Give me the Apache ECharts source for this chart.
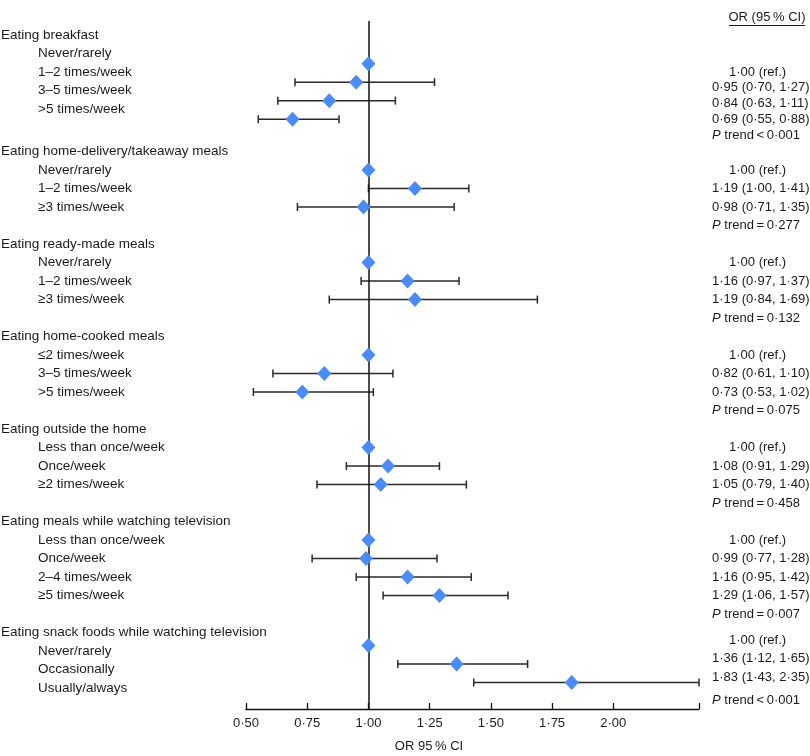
<!DOCTYPE html>
<html>
<head>
<meta charset="utf-8">
<script src="https://cdn.jsdelivr.net/npm/echarts@6/dist/echarts.min.js"></script>
<style>
  html, body { margin: 0; padding: 0; background: #fff; }
  #chart { width: 810px; height: 756px; }
</style>
</head>
<body>
<div id="chart"></div>
<script>
// 数据
const groupNames = [
  'Eating breakfast',
  'Eating home-delivery/takeaway meals',
  'Eating ready-made meals',
  'Eating home-cooked meals',
  'Eating outside the home',
  'Eating meals while watching television',
  'Eating snack foods while watching television'
]
const levelNames = [
  ['Never/rarely', '1–2 times/week', '3–5 times/week', '>5 times/week'],
  ['Never/rarely', '1–2 times/week', '≥3 times/week'],
  ['Never/rarely', '1–2 times/week', '≥3 times/week'],
  ['≤2 times/week', '3–5 times/week', '>5 times/week'],
  ['Less than once/week', 'Once/week', '≥2 times/week'],
  ['Less than once/week', 'Once/week', '2–4 times/week', '≥5 times/week'],
  ['Never/rarely', 'Occasionally', 'Usually/always']
]
const oddsRatios = [
  [1.00, 0.95, 0.84, 0.69],
  [1.00, 1.19, 0.98],
  [1.00, 1.16, 1.19],
  [1.00, 0.82, 0.73],
  [1.00, 1.08, 1.05],
  [1.00, 0.99, 1.16, 1.29],
  [1.00, 1.36, 1.83]
]
const ciLower = [
  [null, 0.70, 0.63, 0.55],
  [null, 1.00, 0.71],
  [null, 0.97, 0.84],
  [null, 0.61, 0.53],
  [null, 0.91, 0.79],
  [null, 0.77, 0.95, 1.06],
  [null, 1.12, 1.43]
]
const ciUpper = [
  [null, 1.27, 1.11, 0.88],
  [null, 1.41, 1.35],
  [null, 1.37, 1.69],
  [null, 1.10, 1.02],
  [null, 1.29, 1.40],
  [null, 1.28, 1.42, 1.57],
  [null, 1.65, 2.35]
]
const pTrend = ['<0·001', '=0·277', '=0·132', '=0·075', '=0·458', '=0·007', '<0·001']
const tickValues = [0.5, 0.75, 1.0, 1.25, 1.5, 1.75, 2.0, 2.35]
const labelValues = [0.5, 0.75, 1.0, 1.25, 1.5, 1.75, 2.0]

// 版面
const FONT = '"Liberation Sans", Arial, Helvetica, sans-serif'
const ROW_PX = 18.5
const TOP_PX = 21
const AXIS_PX = 709
const FIRST_ROW_PX = 35
// 各组的微调（单位：行）
const extraGap = [0.3, 0, 0, 0, 0, 0, 0]
const markShift = [0.55, 0, 0, 0, 0, 0, -0.3]
const labelShift = [0, 0, 0, 0, 0, 0, 0]
const rightShift = [1.0, 0, 0, 0, 0, 0, -0.6]
const pShift = [0.45, 0, 0, 0, 0, 0, -0.35]

const fmt = v => v.toFixed(2).replace('.', '·')

const leftTexts = []
const rightTexts = []
const diamonds = []
const bars = []

let row = 0
groupNames.forEach((name, g) => {
  leftTexts.push({ row: row, x: 1, text: name })
  levelNames[g].forEach((lv, i) => {
    const r = row + 1 + i
    leftTexts.push({ row: r + labelShift[g], x: 38, text: lv })
    diamonds.push([oddsRatios[g][i], r + markShift[g]])
    // 第一组右侧文字行距较紧
    const rr = g === 0 ? row + 1 + rightShift[g] + i * 0.86 : r + rightShift[g]
    if (ciLower[g][i] == null) {
      rightTexts.push({ row: rr, x: 729, text: fmt(oddsRatios[g][i]) + ' (ref.)' })
    } else {
      bars.push([ciLower[g][i], ciUpper[g][i], r + markShift[g]])
      rightTexts.push({
        row: rr,
        x: 712,
        text: fmt(oddsRatios[g][i]) + ' (' + fmt(ciLower[g][i]) + ', ' + fmt(ciUpper[g][i]) + ')'
      })
    }
  })
  const pr = row + levelNames[g].length + 1
  const p = pTrend[g]
  rightTexts.push({ row: pr + pShift[g], x: 712, text: '{i|P} trend\u2009' + p[0] + '\u2009' + p.slice(1) })
  row = pr + 1 + extraGap[g]
})

function textSeries (items, size) {
  return {
    type: 'custom',
    coordinateSystem: 'cartesian2d',
    silent: true,
    clip: false,
    data: items.map(d => [1, d.row]),
    encode: { x: 0, y: 1 },
    renderItem (params, api) {
      const it = items[params.dataIndex]
      const y = api.coord([1, api.value(1)])[1]
      return {
        type: 'text',
        x: it.x,
        y: y,
        style: {
          text: it.text,
          fill: '#1a1a1a',
          fontSize: size,
          fontFamily: FONT,
          align: 'left',
          verticalAlign: 'middle',
          rich: { i: { fontStyle: 'italic', fontSize: size, fontFamily: FONT, fill: '#1a1a1a' } }
        }
      }
    }
  }
}

const chart = echarts.init(document.getElementById('chart'), null, { renderer: 'canvas' })

chart.setOption({
  animation: false,
  backgroundColor: '#fff',
  grid: { left: 246, right: 111, top: TOP_PX, bottom: 756 - AXIS_PX },
  xAxis: {
    type: 'value',
    position: 'bottom',
    min: 0.5,
    max: 2.35,
    axisLine: { onZero: false, lineStyle: { color: '#111', width: 1.3 } },
    axisTick: { inside: true, length: 6, customValues: tickValues, lineStyle: { color: '#111', width: 1.3 } },
    axisLabel: {
      customValues: labelValues,
      formatter: v => fmt(v),
      color: '#1a1a1a',
      fontSize: 13,
      fontFamily: FONT,
      margin: 8
    },
    splitLine: { show: false }
  },
  yAxis: {
    type: 'value',
    inverse: true,
    min: (TOP_PX - FIRST_ROW_PX) / ROW_PX,
    max: (AXIS_PX - FIRST_ROW_PX) / ROW_PX,
    show: false
  },
  graphic: [
    {
      type: 'text',
      x: 767,
      y: 17,
      style: { text: 'OR (95\u2009% CI)', fontSize: 13, fontFamily: FONT, fill: '#1a1a1a', align: 'center', verticalAlign: 'middle' }
    },
    {
      type: 'line',
      shape: { x1: 729, y1: 25.5, x2: 805, y2: 25.5 },
      style: { stroke: '#1a1a1a', lineWidth: 1 }
    },
    {
      type: 'text',
      x: 429,
      y: 746,
      style: { text: 'OR 95\u2009% CI', fontSize: 13, fontFamily: FONT, fill: '#1a1a1a', align: 'center', verticalAlign: 'middle' }
    }
  ],
  series: [
    {
      type: 'custom',
      name: 'ci',
      data: bars,
      encode: { x: [0, 1], y: 2 },
      z: 2,
      renderItem (params, api) {
        const y = api.value(2)
        const a = api.coord([api.value(0), y])
        const b = api.coord([api.value(1), y])
        const st = { stroke: '#2a2a2a', lineWidth: 1.5 }
        return {
          type: 'group',
          children: [
            { type: 'line', shape: { x1: a[0], y1: a[1], x2: b[0], y2: b[1] }, style: st },
            { type: 'line', shape: { x1: a[0], y1: a[1] - 4, x2: a[0], y2: a[1] + 4 }, style: st },
            { type: 'line', shape: { x1: b[0], y1: b[1] - 4, x2: b[0], y2: b[1] + 4 }, style: st }
          ]
        }
      },
      markLine: {
        silent: true,
        symbol: ['none', 'none'],
        label: { show: false },
        lineStyle: { color: '#111', width: 1.5, type: 'solid' },
        data: [{ xAxis: 1 }]
      }
    },
    {
      type: 'scatter',
      name: 'OR',
      data: diamonds,
      symbol: 'diamond',
      symbolSize: [14, 15],
      itemStyle: { color: '#4A8BF5', opacity: 1 },
      z: 5
    },
    textSeries(leftTexts, 13.5),
    textSeries(rightTexts, 13)
  ]
})
</script>
</body>
</html>
